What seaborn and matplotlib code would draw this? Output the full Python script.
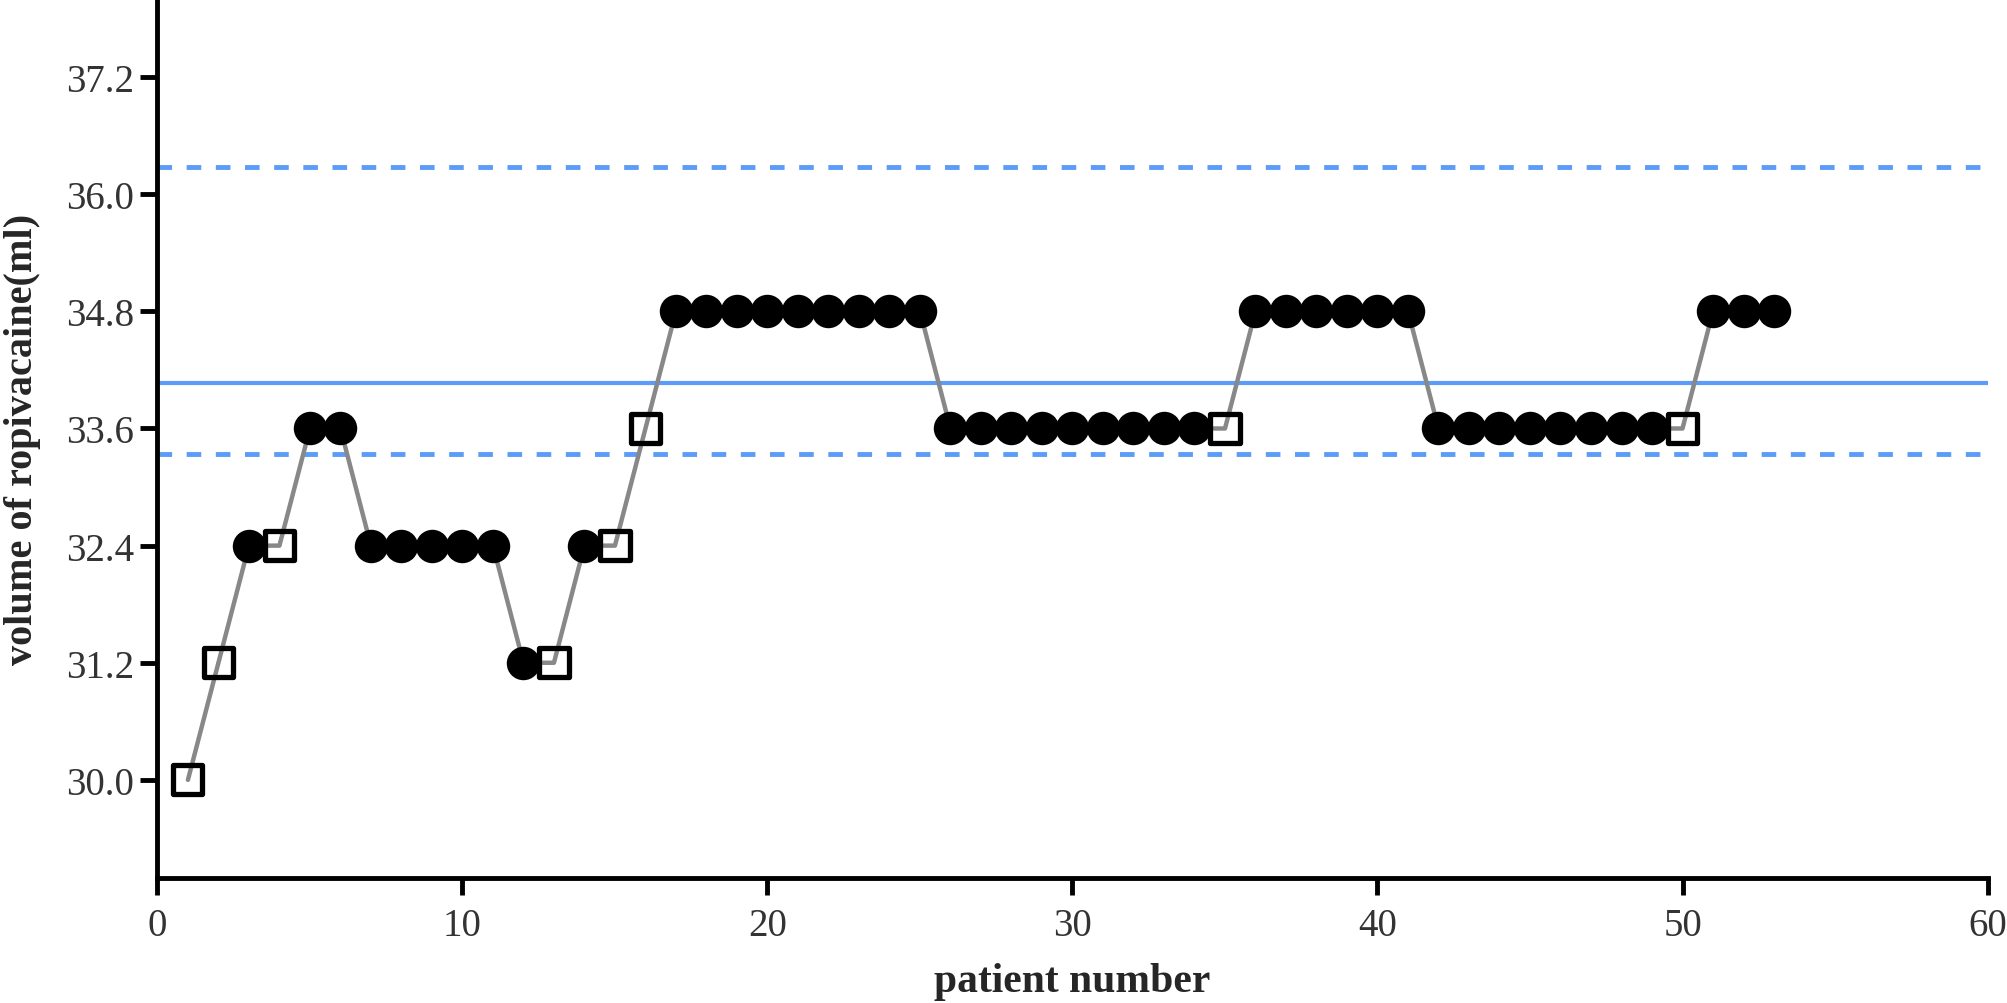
import numpy as np
import pandas as pd
import matplotlib
matplotlib.use('Agg')
import matplotlib.pyplot as plt
import seaborn as sns

# up-and-down sequence
patient = list(range(1, 54))
volume = ([30.0, 31.2, 32.4, 32.4, 33.6, 33.6, 32.4, 32.4, 32.4, 32.4, 32.4,
           31.2, 31.2, 32.4, 32.4, 33.6]
          + [34.8] * 9 + [33.6] * 9 + [33.6] + [34.8] * 6 + [33.6] * 8
          + [33.6] + [34.8] * 3)
failures = [1, 2, 4, 13, 15, 16, 35, 50]
outcome = ['failure' if p in failures else 'success' for p in patient]

ed50 = 34.07
ci_low = 33.34
ci_high = 36.28

df = pd.DataFrame({'patient': patient, 'volume': volume, 'outcome': outcome})

sns.set_style('ticks')
plt.rcParams['font.family'] = ['Liberation Serif', 'DejaVu Serif']

fig = plt.figure(figsize=(20.08, 10.04), dpi=100)
ax = fig.add_axes([0.0784, 0.125, 0.9114, 0.875])

blue = '#5a9cf8'
ax.axhline(ed50, color=blue, lw=3, zorder=1)
ax.axhline(ci_low, color=blue, lw=3.5, ls=(0, (3, 3)), zorder=1)
ax.axhline(ci_high, color=blue, lw=3.5, ls=(0, (3, 3)), zorder=1)

sns.lineplot(data=df, x='patient', y='volume', color='#888888', lw=3.2,
             ax=ax, zorder=2, estimator=None)

succ = df[df.outcome == 'success']
fail = df[df.outcome == 'failure']
sns.scatterplot(data=succ, x='patient', y='volume', marker='o', s=580,
                color='black', edgecolor='black', linewidth=0, ax=ax, zorder=3)
sns.scatterplot(data=fail, x='patient', y='volume', marker='s', s=440,
                facecolor='none', edgecolor='black', linewidth=3.8, ax=ax, zorder=3)

ax.set_xlim(0, 60)
ax.set_ylim(29.0, 38.0)
ax.set_xticks([0, 10, 20, 30, 40, 50, 60])
ax.set_yticks([30.0, 31.2, 32.4, 33.6, 34.8, 36.0, 37.2])
ax.set_yticklabels(['%.1f' % v for v in [30.0, 31.2, 32.4, 33.6, 34.8, 36.0, 37.2]])

for s in ['top', 'right']:
    ax.spines[s].set_visible(False)
for s in ['left', 'bottom']:
    ax.spines[s].set_linewidth(3.5)
    ax.spines[s].set_color('black')
ax.tick_params(axis='both', width=3.5, length=12, labelsize=28,
               labelcolor='#333333', color='black', pad=5)
ax.tick_params(axis='x', pad=9)

ax.set_xlabel('patient number', fontsize=30, fontweight='bold', labelpad=13)
ax.set_ylabel('volume of ropivacaine(ml)', fontsize=29, fontweight='bold', labelpad=18)

fig.savefig('out.png', dpi=100)
